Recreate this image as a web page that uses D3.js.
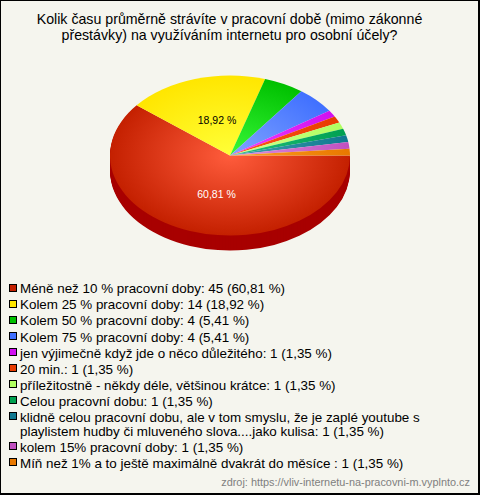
<!DOCTYPE html>
<html><head><meta charset="utf-8">
<script src="https://cdnjs.cloudflare.com/ajax/libs/d3/7.8.5/d3.min.js"></script>
<style>html,body{margin:0;padding:0;background:#f5f5ee}svg{display:block}text{font-family:"Liberation Sans",Arial,sans-serif}</style>
</head><body><svg id="c" width="480" height="495"></svg>
<script>
const titleLines=["Kolik času průměrně strávíte v pracovní době (mimo zákonné","přestávky) na využíváním internetu pro osobní účely?"];
const categories=["Méně než 10 % pracovní doby","Kolem 25 % pracovní doby","Kolem 50 % pracovní doby","Kolem 75 % pracovní doby","jen výjimečně když jde o něco důležitého","20 min.","příležitostně - někdy déle, většinou krátce","Celou pracovní dobu","klidně celou pracovní dobu, ale v tom smyslu, že je zaplé youtube s\nplaylistem hudby či mluveného slova....jako kulisa","kolem 15% pracovní doby","Míň než 1% a to ještě maximálně dvakrát do měsíce "];
const counts=[45,14,4,4,1,1,1,1,1,1,1];
const percents=["60,81","18,92","5,41","5,41","1,35","1,35","1,35","1,35","1,35","1,35","1,35"];
const edgeColors=["#c42000","#ffe600","#00c000","#4070ff","#d010f0","#e83c00","#b0ff60","#00a050","#107890","#c050c0","#e87800"];
const midColors=["#ff5c3c","#ffff38","#38f838","#80a4ff","#f040ff","#ff5818","#d0ff90","#20c080","#40a0b0","#e090e0","#ffa020"];
const source="zdroj: https://vliv-internetu-na-pracovni-m.vyplnto.cz";
const W=480,H=495,cx=230,cy=155.5,rx=120,ry=80,depth=15;
const svg=d3.select("#c");
svg.append("rect").attr("width",W).attr("height",H).attr("fill","#000");
svg.append("rect").attr("x",1).attr("y",1).attr("width",W-3).attr("height",H-3).attr("fill","#f5f5ee");
svg.selectAll("text.t").data(titleLines).join("text").attr("class","t").attr("x",229.5).attr("y",(d,i)=>24+i*16).attr("text-anchor","middle").attr("font-size",14.2).attr("fill","#000").text(d=>d);
const defs=svg.append("defs");
counts.forEach((c,i)=>{
 const g=defs.append("radialGradient").attr("id","g"+i).attr("gradientUnits","userSpaceOnUse").attr("cx",0).attr("cy",0).attr("r",rx);
 g.append("stop").attr("offset",0).attr("stop-color",midColors[i]);
 g.append("stop").attr("offset",1).attr("stop-color",edgeColors[i]);
});
const pie=d3.pie().sort(null).value(d=>d).startAngle(Math.PI/2).endAngle(Math.PI/2+2*Math.PI);
const arcs=pie(counts);
const arc=d3.arc().innerRadius(0).outerRadius(rx);
const sy=ry/rx;
const sideG=svg.append("g");
d3.range(depth,0,-1).forEach(k=>{
 sideG.append("g").attr("transform",`translate(${cx},${cy+k}) scale(1,${sy})`).append("path").attr("d",arc(arcs[0])).attr("fill","#a80000");
});
const topG=svg.append("g").attr("transform",`translate(${cx},${cy}) scale(1,${sy})`);
topG.selectAll("path").data(arcs).join("path").attr("d",arc).attr("fill",(d,i)=>`url(#g${i})`);
svg.append("text").attr("x",217).attr("y",124).attr("text-anchor","middle").attr("font-size",10.5).attr("fill","#000").text("18,92 %");
svg.append("text").attr("x",216.5).attr("y",198).attr("text-anchor","middle").attr("font-size",10.5).attr("fill","#fff").text("60,81 %");
let y=293.3;
const lg=svg.append("g");
categories.forEach((c,i)=>{
 const lines=(c+": "+counts[i]+" ("+percents[i]+" %)").split("\n");
 lg.append("rect").attr("x",9.5).attr("y",Math.round(y-9.8)+0.5).attr("width",7).attr("height",7).attr("fill",edgeColors[i]).attr("stroke","#000");
 lines.forEach((l,j)=>{
  lg.append("text").attr("x",20).attr("y",y+j*14).attr("font-size",13.4).attr("fill","#000").text(l);
 });
 y+=16.07+(lines.length-1)*14;
});
svg.append("text").attr("x",470).attr("y",486).attr("text-anchor","end").attr("font-size",10.9).attr("fill","#808080").text(source);
</script></body></html>
